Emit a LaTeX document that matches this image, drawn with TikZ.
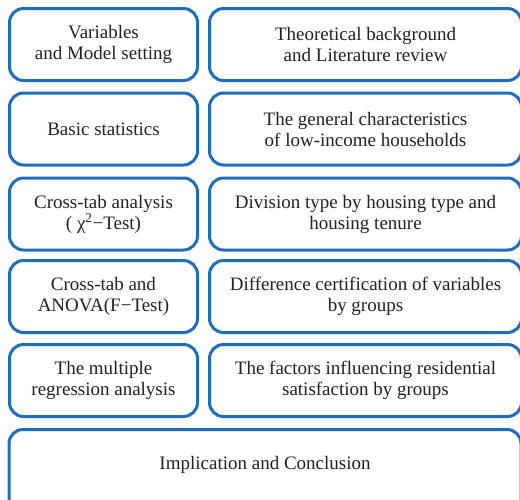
\documentclass[tikz,border=0pt]{standalone}
\usepackage{fontspec}
\setmainfont{Liberation Serif}
\definecolor{boxblue}{HTML}{1E6EC0}
\definecolor{txt}{HTML}{222222}
\tikzset{
  box/.style={draw=boxblue, line width=3pt, rounded corners=14pt, fill=white,
    align=center, text=txt, font=\fontsize{19}{21}\selectfont, inner sep=0pt},
  lbox/.style={box, minimum width=188pt, minimum height=72pt},
  rbox/.style={box, minimum width=312pt, minimum height=72pt},
}
\begin{document}
\begin{tikzpicture}[x=1pt,y=-1pt]
\useasboundingbox (0,0) rectangle (520,499);
\fill[white] (0,0) rectangle (520,499);
\node[lbox] (l1) at (103.5,44.5) {Variables\\and Model setting};
\node[rbox] (r1) at (365.5,44.5) {Theoretical background\\and Literature review};
\node[lbox] (l2) at (103.5,129) {Basic statistics};
\node[rbox] (r2) at (365.5,129) {The general characteristics\\of low-income households};
\node[lbox] (l3) at (103.5,214) {Cross-tab analysis\\( χ\textsuperscript{2}−Test)};
\node[rbox] (r3) at (365.5,214) {Division type by housing type and\\housing tenure};
\node[lbox] (l4) at (103.5,296.5) {Cross-tab and\\ANOVA(F−Test)};
\node[rbox] (r4) at (365.5,296.5) {Difference certification of variables\\by groups};
\node[lbox] (l5) at (103.5,380.5) {The multiple\\regression analysis};
\node[rbox] (r5) at (365.5,380.5) {The factors influencing residential\\satisfaction by groups};
\node[box, minimum width=512pt, minimum height=91pt] (b) at (265,475) {\raisebox{6pt}[0pt][0pt]{Implication and Conclusion}};
\end{tikzpicture}
\end{document}
